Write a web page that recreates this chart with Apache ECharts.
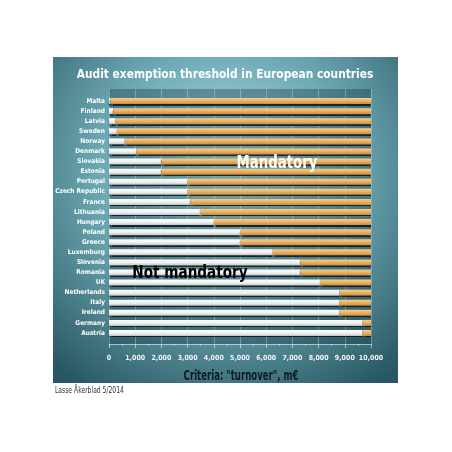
<!DOCTYPE html>
<html><head><meta charset="utf-8">
<script src="https://cdn.jsdelivr.net/npm/echarts@6/dist/echarts.min.js"></script>
<style>html,body{margin:0;padding:0;background:#fff}#c{width:452px;height:452px}</style>
</head><body><div id="c"></div>
<script>
var countries = ["Malta","Finland","Latvia","Sweden","Norway","Denmark","Slovakia","Estonia","Portugal","Czech Republic","France","Lithuania","Hungary","Poland","Greece","Luxemburg","Slovenia","Romania","UK","Netherlands","Italy","Ireland","Germany","Austria"];
var notMandatory = [50,170,250,300,600,1050,2000,2000,3000,3000,3100,3470,4000,5000,5000,6250,7300,7300,8050,8800,8800,8800,9680,9680];
var mandatory = [9950,9830,9750,9700,9400,8950,8000,8000,7000,7000,6900,6530,6000,5000,5000,3750,2700,2700,1950,1200,1200,1200,320,320];
var xTicks = [0,1000,2000,3000,4000,5000,6000,7000,8000,9000,10000];

var FONT = '"DejaVu Sans Condensed","DejaVu Sans",sans-serif';
function txt(t, x, y, size, color, sx, align, weight){
  return {type:'text', x:x, y:y, z:20, scaleX:sx,
    style:{text:t, fill:color, font:(weight||'bold')+' '+size+'px '+FONT, align:align||'center', verticalAlign:'middle'}};
}
var chart = echarts.init(document.getElementById('c'));
chart.setOption({
  animation:false,
  graphic:[
    {type:'rect', z:-10, shape:{x:53,y:57,width:345,height:326},
     style:{fill:new echarts.graphic.RadialGradient(0.5,0.35,0.8,[
       {offset:0,color:'#b2e1e7'},{offset:0.5,color:'#6aa6b1'},{offset:1,color:'#285662'}])}},
    txt('Audit exemption threshold in European countries', 225, 75, 13, '#ffffff', 0.91),
    txt('Mandatory', 277, 163, 18, '#ffffff', 0.82),
    txt('Not mandatory', 190, 273, 18, '#000000', 0.84),
    txt('Criteria: "turnover", m\u20ac', 241, 376, 14, '#0c1c22', 0.68),
    txt('Lasse \u00c5kerblad 5/2014', 55, 391, 8, '#333333', 0.84, 'left', 'normal')
  ],
  grid:[
    {left:109,right:81,top:89,bottom:108,show:true,backgroundColor:'rgba(15,50,60,0.35)',borderWidth:0},
    {left:109,right:81,top:96,bottom:114}
  ],
  xAxis:[
    {gridIndex:0,type:'value',min:0,max:10000,interval:1000,
     axisLine:{show:true,lineStyle:{color:'rgba(255,255,255,0.55)'}},
     axisTick:{show:true,length:4,lineStyle:{color:'rgba(255,255,255,0.55)'}},
     minorTick:{show:true,splitNumber:2,length:2,lineStyle:{color:'rgba(255,255,255,0.45)'}},
     splitLine:{show:true,lineStyle:{color:'rgba(255,255,255,0.28)',width:1}},
     axisLabel:{color:'#f2f6f6',fontFamily:FONT,fontWeight:'bold',fontSize:7,margin:11,
       formatter:function(v){return xTicks.indexOf(v)>=0? v.toLocaleString('en-US'):'';}}},
    {gridIndex:1,type:'value',min:0,max:10000,show:false}
  ],
  yAxis:[
    {gridIndex:0,type:'value',show:false},
    {gridIndex:1,type:'category',data:countries,inverse:true,
     axisLine:{show:false},axisTick:{show:false},splitLine:{show:false},
     axisLabel:{interval:0,color:'#ffffff',fontFamily:FONT,fontWeight:'bold',fontSize:6.5,margin:4}}
  ],
  series:[
    {name:'Not mandatory',type:'bar',stack:'t',xAxisIndex:1,yAxisIndex:1,barWidth:6,data:notMandatory,
     itemStyle:{color:new echarts.graphic.LinearGradient(0,0,0,1,[{offset:0,color:'#ffffff'},{offset:0.6,color:'#eceeee'},{offset:1,color:'#bcc1c1'}]),
       shadowColor:'rgba(10,20,25,0.85)',shadowOffsetY:1.5,shadowBlur:1}},
    {name:'Mandatory',type:'bar',stack:'t',xAxisIndex:1,yAxisIndex:1,barWidth:6,data:mandatory,
     itemStyle:{color:new echarts.graphic.LinearGradient(0,0,0,1,[{offset:0,color:'#f6cf8a'},{offset:0.5,color:'#eab064'},{offset:1,color:'#c98d3e'}]),
       shadowColor:'rgba(10,20,25,0.85)',shadowOffsetY:1.5,shadowBlur:1}}
  ]
});
</script></body></html>
